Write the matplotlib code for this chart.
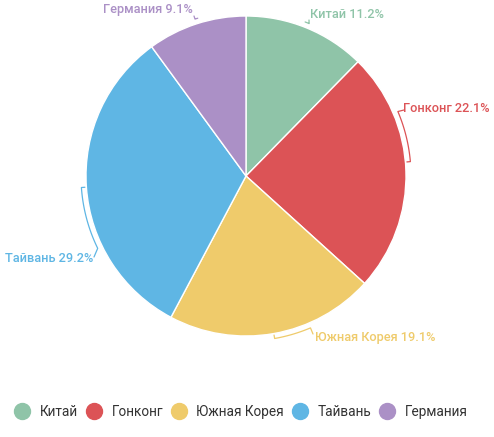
import numpy as np
import matplotlib.pyplot as plt
from matplotlib.lines import Line2D

plt.rcParams['font.family'] = ['Roboto', 'DejaVu Sans']

# данные
countries = ['Китай', 'Гонконг', 'Южная Корея', 'Тайвань', 'Германия']
shares = [11.2, 22.1, 19.1, 29.2, 9.1]
colors = ['#8fc4a8', '#dc5356', '#efcb6b', '#5fb6e4', '#ab90c6']

W, H = 494, 437
cx, cy, R = 246, 176, 160

fig = plt.figure(figsize=(W / 100, H / 100), dpi=100)
ax = fig.add_axes([0, 0, 1, 1])

ax.pie(shares, colors=colors, startangle=90, counterclock=False,
       radius=R, center=(cx, H - cy),
       wedgeprops=dict(edgecolor='white', linewidth=1))
ax.set_xlim(0, W)
ax.set_ylim(0, H)
ax.set_aspect('auto')
ax.axis('off')


def pt(bearing, r):
    b = np.radians(bearing)
    return cx + r * np.sin(b), H - (cy - r * np.cos(b))


# подписи: (позиция текста в px, дуга выноски a1->a2, точка конца)
label_pos = [(310, 15), (403, 108), (315, 338), (5, 258), (103, 10)]
arcs = [(21, 22.5), (85, 67), (170, 157), (266, 244), (343, 342)]
ends = [(309, 20), (404, 110), (313, 334), (94, 257), (194, 16)]

for i, name in enumerate(countries):
    a1, a2 = arcs[i]
    angs = np.linspace(a1, a2, 30)
    xs, ys = pt(angs, R + 5)
    xs = list(xs)
    ys = list(ys)
    if abs(a2 - a1) > 5:
        # крючок на начале дуги (к пирогу)
        x0, y0 = pt(a1, R + 1.5)
        xs = [x0] + xs
        ys = [y0] + ys
    xs.append(ends[i][0])
    ys.append(H - ends[i][1])
    ax.plot(xs, ys, color=colors[i], lw=0.9, solid_capstyle='round')
    tx, ty = label_pos[i]
    ax.text(tx, H - ty, '%s %.1f%%' % (name, shares[i]), color=colors[i],
            fontsize=9.2, fontweight='medium', ha='left', va='center')

handles = [Line2D([], [], marker='o', ls='', markersize=11.5,
                  markerfacecolor=c, markeredgecolor=c) for c in colors]
ax.legend(handles, countries, loc='center', bbox_to_anchor=(0.488, 1 - 412 / H),
          ncol=5, frameon=False, fontsize=9.8, handlelength=1.1,
          handletextpad=0.75, columnspacing=0.6, labelcolor='#333333')

fig.savefig('out.png', dpi=100)
